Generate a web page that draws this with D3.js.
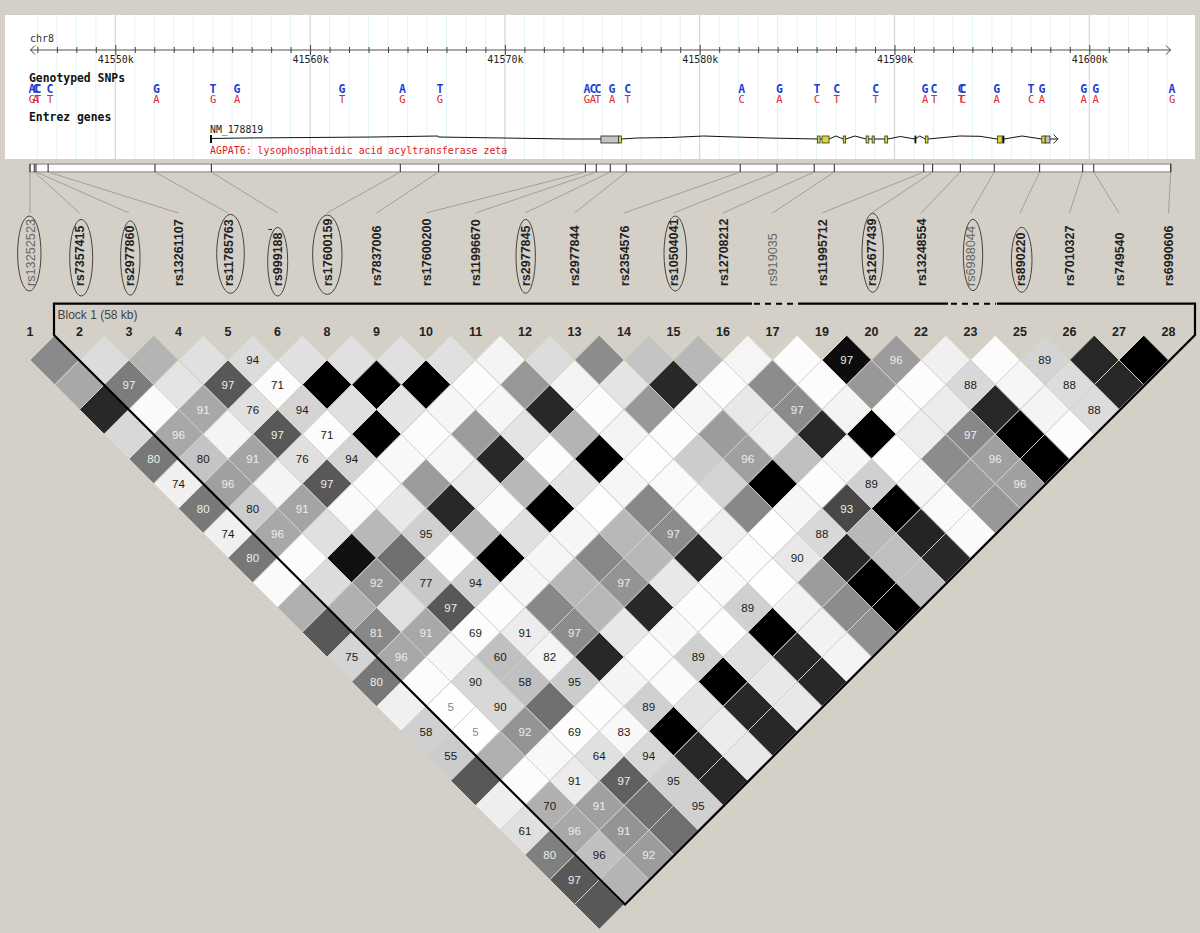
<!DOCTYPE html>
<html><head><meta charset="utf-8">
<style>html,body{margin:0;padding:0;background:#d4d0c8;overflow:hidden}svg{display:block;opacity:.999}</style>
<script src="https://cdn.jsdelivr.net/npm/d3@7/dist/d3.min.js"></script>
</head><body><svg id="c" width="1200" height="933"></svg>
<script>
// ---------- data ----------
const markerNumbers = [1,2,3,4,5,6,8,9,10,11,12,13,14,15,16,17,19,20,22,23,25,26,27,28];
const markerNames = ["rs13252523","rs7357415","rs2977860","rs13261107","rs11785763","rs999188","rs17600159","rs7837006","rs17600200","rs11996670","rs2977845","rs2977844","rs2354576","rs10504041","rs12708212","rs919035","rs11995712","rs12677439","rs13248554","rs6988044","rs890220","rs7010327","rs749540","rs6990606"];
const markerKb = [41545.62,41545.84,41545.93,41546.55,41552.04,41554.93,41564.63,41566.60,41574.13,41574.69,41575.41,41576.23,41582.08,41583.97,41585.88,41586.91,41591.50,41591.96,41593.38,41595.12,41597.45,41599.66,41600.23,41604.18];
const plainMarkers = ["rs13252523","rs919035","rs6988044"];
const alleleKb = [41545.72,41545.93,41546.03,41546.65,41552.11,41555.02,41556.25,41561.64,41564.74,41566.67,41574.21,41574.52,41574.78,41575.50,41576.30,41582.16,41584.09,41586.02,41587.03,41589.03,41591.57,41592.03,41593.41,41593.52,41595.25,41597.01,41597.57,41599.71,41600.33,41604.25];
const alleleMajor = ["A","C","C","C","G","T","G","G","A","T","A","C","C","G","C","A","G","T","C","C","G","C","C","C","G","T","G","G","G","A"];
const alleleMinor = ["G","A","T","T","A","G","A","T","G","G","G","A","T","A","T","C","A","C","T","T","A","T","T","C","A","C","A","A","A","G"];
const exonsCoding = [[41586.04,41586.18],[41586.28,41586.64],[41587.37,41587.49],[41588.54,41588.68],[41588.85,41588.96],[41589.50,41589.65],[41591.58,41591.72],[41595.28,41595.53],[41597.56,41597.73],[41575.83,41575.99]];
const exonsSmall = [[41591.05,41591.10],[41595.57,41595.62]];
const exonsUtr = [[41574.93,41575.83],[41597.73,41597.98]];
const geneKb = [41554.91,41556.60,41560,41563.23,41566.56,41566.58,41569.9,41573.24,41574.93,41575.99,41576.8,41578.5,41580.2,41581.8,41583.5,41586.03,41586.64,41587.0,41587.36,41587.5,41587.97,41588.54,41588.96,41589.5,41589.65,41590.3,41591.05,41591.3,41591.58,41591.72,41593.36,41594.39,41595.26,41595.62,41596.55,41597.56,41597.98,41598.41];
const geneLift = [0.5,1,1.5,2,3,2,1,0,0,0,1,1.5,3,2,1,0,0,3,0,0,3,0,0,0,0,2.5,0,3,0,0,3,2.7,0,0,3,0,0,0];
// grey shade per LD cell, one list per marker distance (1 .. 23)
const ldShade = [
[0x8a,0xdc,0xb4,0xe0,0xdc,0xe0,0xe0,0xe0,0xe0,0xf4,0xdc,0x8c,0xc4,0xb8,0xf5,0xfc,0x0c,0x9c,0xf0,0xfc,0xd4,0x28,0x00],
[0xa8,0x7c,0xe4,0x58,0xfc,0x00,0x00,0x00,0xfc,0x98,0xf4,0xe4,0x28,0xfc,0x8c,0xfc,0x98,0xfc,0xd8,0xf6,0xdc,0x28],
[0x28,0xfa,0xa8,0xe0,0xd4,0xe0,0xe4,0xf6,0xf6,0x28,0xfc,0x98,0xf6,0xe8,0x8c,0xf4,0xfc,0xec,0x28,0xf4,0xdc],
[0xd8,0xa8,0xf4,0x58,0xfc,0x00,0xfc,0x9c,0xe4,0xb4,0xf4,0xfc,0x9c,0xec,0x28,0x00,0xee,0x88,0x00,0xfc],
[0x78,0xc4,0xa4,0xe0,0xd4,0xf8,0xf6,0x28,0xfc,0x00,0xfe,0xcc,0xa0,0xc0,0xf6,0xfe,0x8c,0xa0,0x00],
[0xf0,0xa0,0xf4,0x58,0xfc,0x9c,0xec,0xb8,0xe4,0xf6,0xfa,0xd4,0x00,0xfc,0xd0,0xf6,0x9c,0xa0],
[0x78,0xcc,0xa4,0xfa,0xe8,0x28,0xfa,0x00,0xfe,0x88,0xfa,0x88,0xf6,0x48,0x00,0xfa,0x98],
[0xf0,0xa8,0xe0,0xb8,0xd0,0xb8,0xe0,0xf6,0xb8,0x8c,0xf0,0xfe,0xd8,0xb8,0x24,0xfa],
[0x78,0xfc,0x10,0x70,0xfc,0x00,0xf6,0x88,0xb8,0x28,0xfc,0xe8,0x28,0xc0,0x28],
[0xfa,0xdc,0x94,0xc8,0xd0,0xf6,0xb8,0x94,0xe8,0xfa,0xfe,0x9c,0x00,0xc0],
[0xb0,0xb0,0xe0,0x58,0xfc,0x88,0xb8,0x28,0xfc,0xd0,0xf2,0x8c,0x00],
[0x58,0x88,0xa8,0xfc,0xec,0x8c,0xe8,0xf8,0xfc,0x00,0xf2,0x90],
[0xd4,0xa8,0xf8,0xc0,0xf4,0x28,0xfc,0xd0,0xe0,0x28,0xf4],
[0x78,0xfc,0xd8,0xc0,0xcc,0xf4,0xfa,0x00,0xe8,0x28],
[0xf0,0xfe,0xd8,0x70,0xfc,0xd0,0xe4,0x28,0xe8],
[0xd0,0xfe,0x94,0xfc,0xf8,0x00,0xec,0x28],
[0xcc,0xb0,0xf8,0xe0,0xd8,0x28,0xe8],
[0x58,0xfc,0xec,0x60,0xd0,0x28],
[0xee,0xb0,0xa0,0x70,0xd0],
[0xe0,0xa8,0x94,0x70],
[0x80,0xc0,0x9c],
[0x58,0xb4],
[0x58]];
// printed score per LD cell, 0 where the cell has no number
const ldScore = [
[0,0,0,0,94,0,0,0,0,0,0,0,0,0,0,0,97,96,0,0,89,0,0],
[0,97,0,97,71,0,0,0,0,0,0,0,0,0,0,0,0,0,88,0,88,0],
[0,0,91,76,94,0,0,0,0,0,0,0,0,0,97,0,0,0,0,0,88],
[0,96,0,97,71,0,0,0,0,0,0,0,0,0,0,0,0,97,0,0],
[80,80,91,76,94,0,0,0,0,0,0,0,96,0,0,0,0,96,0],
[74,96,0,97,0,0,0,0,0,0,0,0,0,0,89,0,0,96],
[80,80,91,0,0,0,0,0,0,0,0,0,0,93,0,0,0],
[74,96,0,0,95,0,0,0,0,97,0,0,88,0,0,0],
[80,0,0,0,0,0,0,0,0,0,0,90,0,0,0],
[0,0,92,77,94,0,0,97,0,0,0,0,0,0],
[0,0,0,97,0,0,0,0,0,89,0,0,0],
[0,81,91,69,91,97,0,0,0,0,0,0],
[75,96,0,60,82,0,0,89,0,0,0],
[80,0,90,58,95,0,0,0,0,0],
[0,5,90,0,0,89,0,0,0],
[58,5,92,69,83,0,0,0],
[55,0,0,64,94,0,0],
[0,0,91,97,95,0],
[0,70,91,0,95],
[61,96,91,0],
[80,96,92],
[97,0],
[0]];
const ellipsedMarkers = ["rs13252523","rs7357415","rs2977860","rs11785763","rs999188","rs17600159","rs2977845","rs10504041","rs12677439","rs6988044","rs890220"];
const majorTicks = [41550,41560,41570,41580,41590,41600];
const minorTicks = d3.range(41546,41605).filter(k=>k%10!==0);

// ---------- layout (not data) ----------
const ellipseLayout = {rs13252523:[29.3,253.5,11.7,37.5],rs7357415:[81.2,257.7,11.5,38.3],rs2977860:[130.3,258,9.7,37.2],rs11785763:[230.5,253.8,13.8,39.5],rs999188:[277.7,261.7,10,34.3],rs17600159:[327.3,254.7,14.7,39.7],rs2977845:[525.7,256.3,9.7,37],rs10504041:[675.3,253.5,11.3,37.5],rs12677439:[872.7,252.8,10.7,39.5],rs6988044:[973,255,9.7,35.7],rs890220:[1021.7,259.8,10.3,32.5]};
const MONO = "'DejaVu Sans Mono',monospace", SANS = "'Liberation Sans',Arial,sans-serif";
const BG = "#d4d0c8";
const svg = d3.select("#c");
svg.append("rect").attr("width",1200).attr("height",933).attr("fill",BG);

const xKb = d3.scaleLinear().domain([41550,41600]).range([115.3,1089.3]);
const col = d3.scaleLinear().domain([0,markerNames.length-1]).range([30,1168.5]);
const step = col(1)-col(0);
const rowY = d3.scaleLinear().domain([1,23]).range([360,904.5]);

// ---------- browser panel ----------
const panel = svg.append("g");
panel.append("rect").attr("x",5).attr("y",15).attr("width",1190).attr("height",144).attr("fill","#fff");
panel.selectAll("line.minor").data(minorTicks).join("line").attr("class","minor")
  .attr("x1",d=>xKb(d)).attr("x2",d=>xKb(d)).attr("y1",15).attr("y2",159).attr("stroke","#e2f4f7");
panel.selectAll("line.major").data(majorTicks).join("line").attr("class","major")
  .attr("x1",d=>xKb(d)).attr("x2",d=>xKb(d)).attr("y1",15).attr("y2",159).attr("stroke","#d6d6d6").attr("stroke-width",1.2);

panel.append("line").attr("x1",30).attr("x2",1171).attr("y1",50).attr("y2",50).attr("stroke","#555").attr("stroke-width",1.1);
panel.append("path").attr("d","M35,45.5L30.5,50L35,54.5M1166,45.5L1170.5,50L1166,54.5").attr("fill","none").attr("stroke","#444");
const axMinor = d3.axisBottom(xKb).tickValues(minorTicks.filter(k=>k<41604)).tickSize(6).tickFormat("");
const gMinor = panel.append("g").attr("transform","translate(0,47)").call(axMinor);
gMinor.select(".domain").remove();
gMinor.selectAll("line").attr("stroke","#444");
const axMajor = d3.axisBottom(xKb).tickValues(majorTicks).tickSize(10).tickPadding(0).tickFormat(d=>d+"k");
const gMajor = panel.append("g").attr("transform","translate(0,45)").call(axMajor);
gMajor.select(".domain").remove();
gMajor.selectAll("line").attr("stroke","#444");
gMajor.selectAll("text").attr("y",18).attr("dy",0).attr("font-family",MONO).attr("font-size",10).attr("fill","#222");

const monoText=(t,x,y,size,fill,weight)=>panel.append("text").text(t).attr("x",x).attr("y",y).attr("font-family",MONO)
   .attr("font-size",size).attr("fill",fill).attr("font-weight",weight||"normal");
monoText("chr8",30,42,10,"#333");
monoText("Genotyped SNPs",29,82,11.4,"#111","bold");
monoText("Entrez genes",29,121,11.4,"#111","bold");
monoText("NM_178819",210,133,9.8,"#222");
monoText("AGPAT6: lysophosphatidic acid acyltransferase zeta",210,153.5,9.9,"#e01818");

panel.selectAll("text.maj").data(alleleMajor).join("text").attr("class","maj").text(d=>d)
  .attr("x",(d,i)=>xKb(alleleKb[i])).attr("y",93).attr("text-anchor","middle")
  .attr("font-family",MONO).attr("font-size",11.5).attr("font-weight","bold").attr("fill","#1c3fd8");
panel.selectAll("text.min").data(alleleMinor).join("text").attr("class","min").text(d=>d)
  .attr("x",(d,i)=>xKb(alleleKb[i])).attr("y",103).attr("text-anchor","middle")
  .attr("font-family",MONO).attr("font-size",10.5).attr("fill","#e0262a");

// gene model
const geneY = d3.scaleLinear().domain([0,3]).range([139,136]);
const geneLine = d3.line().x(d=>xKb(d[0])).y(d=>geneY(d[1]));
panel.append("path").attr("d",geneLine(geneKb.map((k,i)=>[k,geneLift[i]]))).attr("fill","none").attr("stroke","#111").attr("stroke-width",1);
panel.append("path").attr("d","M211,135V143").attr("stroke","#111").attr("stroke-width",2);
panel.append("path").attr("d","M1053.5,134.5L1058,139L1053.5,143.5").attr("fill","none").attr("stroke","#333");
const exon=(list,fill,stroke,h)=>panel.selectAll(null).data(list).join("rect")
  .attr("x",d=>xKb(d[0])).attr("width",d=>xKb(d[1])-xKb(d[0])).attr("y",139.5-h/2).attr("height",h)
  .attr("fill",fill).attr("stroke",stroke).attr("stroke-width",.8);
exon(exonsUtr,"#c4c4c4","#222",7);
exon(exonsCoding,"#d8d830","#333",7);
exon(exonsSmall,"#111","#111",7);

// ---------- marker track and connectors ----------
const track = svg.append("g");
track.append("rect").attr("x",30).attr("y",164).attr("width",1141).attr("height",8).attr("fill","#fff").attr("stroke","#a8a6a0").attr("stroke-width",1.6);
track.selectAll("line.conn").data(markerKb).join("line").attr("class","conn")
  .attr("x1",d=>xKb(d)).attr("y1",172).attr("x2",(d,i)=>col(i)).attr("y2",213).attr("stroke","#a0a09c").attr("stroke-width",1);
track.selectAll("line.tk").data(markerKb).join("line").attr("class","tk")
  .attr("x1",d=>xKb(d)).attr("x2",d=>xKb(d)).attr("y1",164).attr("y2",172).attr("stroke","#222").attr("stroke-width",1);

// ---------- marker names ----------
const nameLayer = svg.append("g");
nameLayer.selectAll("text").data(markerNames).join("text").text(d=>d)
  .attr("transform",(d,i)=>`translate(${col(i)+4.5},286) rotate(-90)`)
  .attr("font-family",SANS)
  .attr("font-size",d=>plainMarkers.includes(d)?12.7:12.5)
  .attr("font-weight",d=>plainMarkers.includes(d)?"normal":"bold")
  .attr("fill",d=>plainMarkers.includes(d)?"#666":"#222");
nameLayer.selectAll("ellipse").data(ellipsedMarkers).join("ellipse")
  .attr("cx",d=>ellipseLayout[d][0]).attr("cy",d=>ellipseLayout[d][1])
  .attr("rx",d=>ellipseLayout[d][2]).attr("ry",d=>ellipseLayout[d][3])
  .attr("fill","none").attr("stroke","#444").attr("stroke-width",1);
nameLayer.append("path").attr("d","M268.5,229.5H272").attr("stroke","#222");

// ---------- column numbers ----------
svg.append("g").selectAll("text").data(markerNumbers).join("text").text(d=>d)
  .attr("x",(d,i)=>col(i)).attr("y",336).attr("text-anchor","middle")
  .attr("font-family",SANS).attr("font-size",12.5).attr("font-weight","bold").attr("fill","#222");

// ---------- LD triangle ----------
const cells = ldShade.flatMap((row,r)=>row.map((shade,i)=>({d:r+1,i,shade,score:ldScore[r][i]})));
const cellX = c=>col(c.i)+c.d*step/2, cellY = c=>rowY(c.d), halfCell = step/2;
const ldLayer = svg.append("g");
ldLayer.selectAll("path").data(cells).join("path")
  .attr("d",c=>`M${cellX(c)},${cellY(c)-halfCell}L${cellX(c)+halfCell},${cellY(c)}L${cellX(c)},${cellY(c)+halfCell}L${cellX(c)-halfCell},${cellY(c)}Z`)
  .attr("fill",c=>d3.rgb(c.shade,c.shade,c.shade).formatHex())
  .attr("stroke",BG).attr("stroke-width",1);
ldLayer.selectAll("text").data(cells.filter(c=>c.score>0)).join("text").text(c=>c.score)
  .attr("x",cellX).attr("y",c=>cellY(c)+4.3).attr("text-anchor","middle")
  .attr("font-family",SANS).attr("font-size",11.5)
  .attr("fill",c=>c.score<10?"#888":(c.shade<0xaf?"#eee":"#1a1a1a"));

// ---------- block outline ----------
const blockLayer = svg.append("g").attr("fill","none").attr("stroke","#000");
blockLayer.append("path").attr("stroke-width",2.2)
  .attr("d","M752,303.7H54V335L625,904.5L1195,335V303.7H997M948,303.7H798");
blockLayer.append("path").attr("stroke-width",2).attr("stroke-dasharray","6,5")
  .attr("d","M754,303.7H797M951,303.7H996");
svg.append("text").text("Block 1 (58 kb)").attr("x",57.5).attr("y",319)
  .attr("font-family",SANS).attr("font-size",12).attr("fill","#444");
</script></body></html>
